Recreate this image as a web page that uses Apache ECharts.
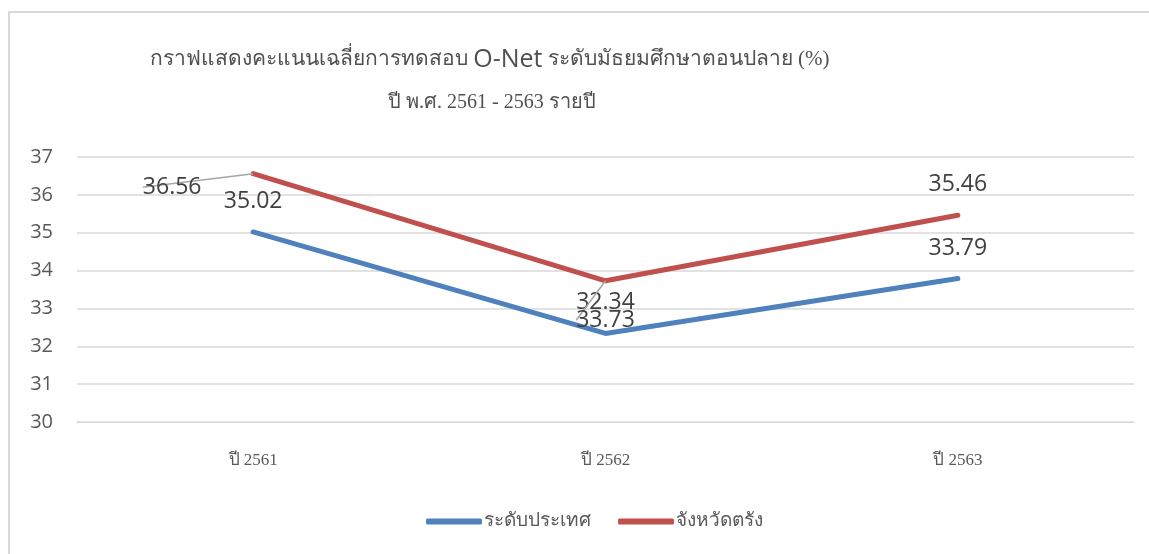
<!DOCTYPE html>
<html>
<head>
<meta charset="utf-8">
<script src="https://cdn.jsdelivr.net/npm/echarts@6/dist/echarts.min.js"></script>
<style>
  html, body { margin: 0; padding: 0; background: #fff; }
  #chart { width: 1149px; height: 554px; }
</style>
</head>
<body>
<div id="chart"></div>
<script>
  // ข้อมูล
  var categories = ['ปี 2561', 'ปี 2562', 'ปี 2563'];
  var national = [35.02, 32.34, 33.79];   // ระดับประเทศ
  var trang = [36.56, 33.73, 35.46];      // จังหวัดตรัง
  var seriesNames = ['ระดับประเทศ', 'จังหวัดตรัง'];
  var yTicks = [30, 31, 32, 33, 34, 35, 36, 37];

  var thaiSerif = '"Liberation Serif", "DejaVu Serif", serif';
  var sans = '"Open Sans", "Noto Sans", sans-serif';

  var chart = echarts.init(document.getElementById('chart'));

  var option = {
    animation: false,
    title: [
      {
        text: 'กราฟแสดงคะแนนเฉลี่ยการทดสอบ {b|O-Net} ระดับมัธยมศึกษาตอนปลาย (%)',
        left: 145,
        top: 42,
        textStyle: {
          fontFamily: thaiSerif,
          fontSize: 21,
          fontWeight: 'normal',
          color: '#505050',
          rich: {
            b: { fontFamily: sans, fontSize: 25, color: '#505050' }
          }
        }
      },
      {
        text: 'ปี พ.ศ. 2561 - 2563 รายปี',
        left: 383,
        top: 88,
        textStyle: {
          fontFamily: thaiSerif,
          fontSize: 20,
          fontWeight: 'normal',
          color: '#505050'
        }
      }
    ],
    graphic: [
      {
        type: 'rect',
        shape: { x: 9, y: 12, width: 1160, height: 560 },
        style: { fill: 'none', stroke: '#d9d9d9', lineWidth: 2 },
        silent: true
      }
    ],
    legend: {
      bottom: 18,
      left: 421,
      itemWidth: 56,
      itemHeight: 6,
      itemGap: 27,
      icon: 'roundRect',
      data: seriesNames,
      textStyle: {
        fontFamily: thaiSerif,
        fontSize: 19,
        color: '#595959',
        padding: [0, 0, 0, -3]
      }
    },
    grid: {
      left: 77,
      right: 15,
      top: 157,
      bottom: 132
    },
    xAxis: {
      type: 'category',
      data: categories,
      boundaryGap: true,
      axisLine: { lineStyle: { color: '#d9d9d9' } },
      axisTick: { show: false },
      axisLabel: {
        margin: 30,
        fontFamily: thaiSerif,
        fontSize: 17,
        color: '#595959'
      }
    },
    yAxis: {
      type: 'value',
      min: yTicks[0],
      max: yTicks[yTicks.length - 1],
      interval: 1,
      axisLine: { show: false },
      axisTick: { show: false },
      splitLine: { lineStyle: { color: '#d9d9d9', width: 1.5 } },
      axisLabel: {
        margin: 24,
        fontFamily: sans,
        fontSize: 20,
        color: '#595959'
      }
    },
    series: [
      {
        name: seriesNames[0],
        type: 'line',
        data: national,
        symbol: 'circle',
        symbolSize: 0,
        showSymbol: true,
        color: '#4f81bd',
        lineStyle: { width: 5, color: '#4f81bd', cap: 'round' },
        label: {
          show: true,
          position: 'top',
          distance: 19,
          fontFamily: sans,
          fontSize: 23,
          color: '#404040'
        },
        z: 2
      },
      {
        name: seriesNames[1],
        type: 'line',
        data: trang.map(function (v, i) {
          if (i === 1) {
            return { value: v, label: { position: 'bottom', distance: 28, offset: [-6, 0] } };
          }
          if (i === 2) {
            return { value: v, labelLine: { show: false } };
          }
          return v;
        }),
        symbol: 'circle',
        symbolSize: 0,
        showSymbol: true,
        color: '#c0504d',
        lineStyle: { width: 5, color: '#c0504d', cap: 'round' },
        label: {
          show: true,
          position: 'top',
          distance: 19,
          fontFamily: sans,
          fontSize: 23,
          color: '#404040'
        },
        labelLayout: function (params) {
          if (params.dataIndex === 0) {
            return { dx: -81, dy: 44 };
          }
          return {};
        },
        labelLine: {
          show: true,
          lineStyle: { color: '#a6a6a6', width: 1.5 }
        },
        z: 3
      }
    ]
  };

  chart.setOption(option);
</script>
</body>
</html>
